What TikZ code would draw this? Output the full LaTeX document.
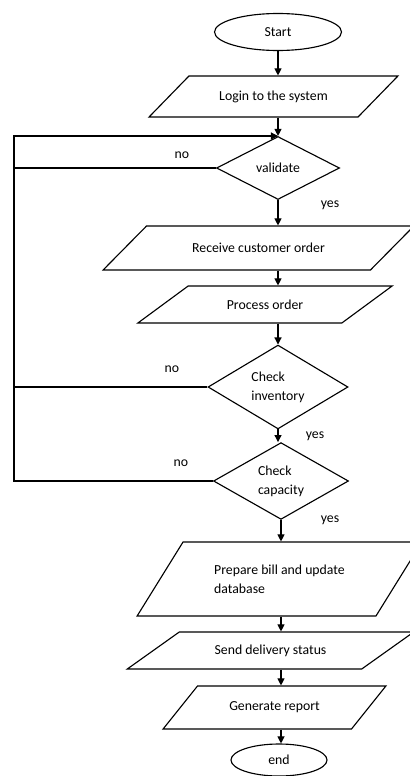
\documentclass[tikz,border=0pt]{standalone}
\usepackage{fontspec}
\setmainfont{Carlito}
\usetikzlibrary{arrows.meta,shapes.geometric}
\newcommand{\unitpx}{0.025cm}
\tikzset{
    chart/.style={x=\unitpx, y=-\unitpx, font=\fontsize{9.8}{13.5}\selectfont},
    terminal/.style={ellipse, draw, line width=0.8pt, inner sep=0pt},
    io/.style={trapezium, draw, line width=0.8pt, trapezium stretches=true,
               inner sep=2pt, align=center},
    decision/.style={diamond, draw, line width=0.8pt, inner sep=0pt, align=left},
    flow/.style={-{Triangle[length=5pt, width=5pt]}, line width=0.8pt},
    link/.style={line width=0.8pt},
    note/.style={inner sep=0pt},
}

\begin{document}
\begin{tikzpicture}[chart]
    \useasboundingbox (0,0) rectangle (409,776);

    \node[terminal, minimum width=127*\unitpx, minimum height=37*\unitpx] (start) at (278,32) {Start};
    \node[io, trapezium left angle=33.1, trapezium right angle=146.9,
          minimum width=249*\unitpx, minimum height=41*\unitpx] (login) at (273.5,96.5) {Login to the system};
    \node[decision, minimum width=123*\unitpx, minimum height=63*\unitpx] (validate) at (278,168) {validate};
    \node[io, trapezium left angle=29.7, trapezium right angle=150.3,
          minimum width=311*\unitpx, minimum height=44*\unitpx] (receive) at (258.5,248) {Receive customer order};
    \node[io, trapezium left angle=29.7, trapezium right angle=150.3,
          minimum width=256*\unitpx, minimum height=37*\unitpx] (process) at (265,304.5) {Process order};
    \node[decision, minimum width=140*\unitpx, minimum height=80*\unitpx] (inventory) at (278,387) {Check\\inventory};
    \node[decision, minimum width=135*\unitpx, minimum height=74*\unitpx] (capacity) at (281,481) {Check\\capacity};
    \node[io, trapezium left angle=46.6, trapezium right angle=133.4, align=left,
          minimum width=285*\unitpx, minimum height=74*\unitpx] (prepare) at (279.5,579) {Prepare bill and update\\database};
    \node[io, trapezium left angle=27.5, trapezium right angle=152.5,
          minimum width=287*\unitpx, minimum height=37*\unitpx] (send) at (270.5,650.5) {Send delivery status};
    \node[io, trapezium left angle=38, trapezium right angle=142,
          minimum width=223*\unitpx, minimum height=43*\unitpx] (report) at (274.5,707.5) {Generate report};
    \node[terminal, minimum width=96*\unitpx, minimum height=32*\unitpx] (end) at (279,760) {end};

    % labels
    \node[note] (novalidate) at (182,155) {no};
    \node[note] (noinventory) at (172,369) {no};
    \node[note] (nocapacity) at (181,463) {no};
    \node[note] (yesvalidate) at (330,205) {yes};
    \node[note] (yesinventory) at (315,436) {yes};
    \node[note] (yescapacity) at (330,520) {yes};

    % main flow
    \draw[flow] (start.south) -- (start.south |- login.north);
    \draw[flow] (validate.north |- login.south) -- (validate.north);
    \draw[flow] (validate.south) -- (validate.south |- receive.north);
    \draw[flow] (validate.south |- receive.south) -- (validate.south |- process.north);
    \draw[flow] (inventory.north |- process.south) -- (inventory.north);
    \draw[flow] (inventory.south) -- (inventory.south |- capacity.north);
    \draw[flow] (capacity.south) -- (capacity.south |- prepare.north);
    \draw[flow] (capacity.south |- prepare.south) -- (capacity.south |- send.north);
    \draw[flow] (capacity.south |- send.south) -- (capacity.south |- report.north);
    \draw[flow] (capacity.south |- report.south) -- (capacity.south |- end.north);

    % return loop
    \coordinate (rail) at (14,136);
    \draw[flow] (capacity.west) -| (rail) -- (rail -| validate.north);
    \draw[link] (inventory.west) -- (inventory.west -| rail);
    \draw[link] (validate.west) -- (validate.west -| rail);
\end{tikzpicture}
\end{document}
